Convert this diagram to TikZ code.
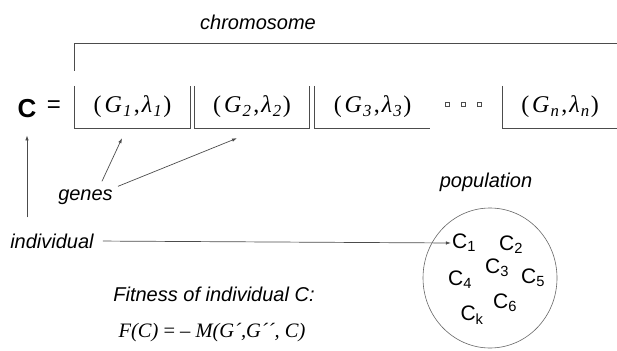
\documentclass[tikz,border=0pt]{standalone}
\usepackage{fontspec}
\setmainfont{Liberation Serif}
\setsansfont{Liberation Sans}
\usetikzlibrary{arrows.meta}

\newcommand{\genetext}[1]{(\kern3pt\textit{G}\kern1pt\textsubscript{\itshape #1}\kern2pt,\kern2pt\textit{λ}\kern1pt\textsubscript{\itshape #1}\kern1pt)}

\tikzset{
  lbl/.style={font=\fontsize{20}{24}\selectfont\sffamily\itshape, inner sep=0pt},
  genebox/.style={minimum width=115pt, minimum height=42pt, inner sep=0pt,
    font=\fontsize{24}{28}\selectfont},
  indiv/.style={font=\fontsize{21}{25}\selectfont\sffamily, inner sep=0pt},
  wire/.style={draw=black!70, line width=0.7pt},
}

\begin{document}
\begin{tikzpicture}[x=1pt,y=-1pt,>={Latex[length=5pt,width=3.5pt]}]
\useasboundingbox (0,0) rectangle (617,350);

\node[lbl] (chrom) at (258,22) {chromosome};

\node[font=\fontsize{26}{30}\selectfont\sffamily\bfseries, inner sep=0pt] (C) at (27,109) {C};
\node[font=\fontsize{24}{28}\selectfont\sffamily] (eq) at (54,107) {=};

\node[genebox] (g1) at (132.5,107) {\genetext{1}};
\node[genebox] (g2) at (252,107) {\genetext{2}};
\node[genebox] (g3) at (372.5,107) {\genetext{3}};
\node[genebox, minimum width=114pt] (gn) at (560,107) {\genetext{n}};

\draw[wire] (g1.north west) |- (g1.south east) -- (g1.north east);
\draw[wire] (g2.north west) |- (g2.south east) -- (g2.north east);
\draw[wire] (g3.north west) |- (g3.south east);
\draw[wire] (gn.north west) |- (gn.south east);
\draw[wire] ([yshift=15pt]g1.north west) |- (617,43);

\foreach \x in {447,463,479}
  \draw[wire, line width=0.5pt] (\x-2,102) rectangle (\x+2,106);

\node[lbl] (genes) at (85.5,197) {genes};
\node[lbl] (ind) at (52,241) {individual};

\draw[wire,->] ([shift={(-11,-8)}]genes.north east) -- ([shift={(-10.5,10)}]g1.south);
\draw[wire,->] ([shift={(5,-3)}]genes.north east) -- ([shift={(-15,10)}]g2.south);
\draw[wire,->] ([yshift=16pt]ind.north -| C.south) -- ([yshift=-17pt]C.south);

\node[lbl] (pop) at (486,182) {population};
\draw[draw=black!60, line width=0.6pt] (490,278) ellipse [x radius=67, y radius=70];

\node[indiv] (c1) at (464,243) {C\textsubscript{1}};
\node[indiv] (c2) at (511,245) {C\textsubscript{2}};
\node[indiv] (c3) at (497,268) {C\textsubscript{3}};
\node[indiv] (c4) at (460,280) {C\textsubscript{4}};
\node[indiv] (c5) at (533,278) {C\textsubscript{5}};
\node[indiv] (c6) at (505,303) {C\textsubscript{6}};
\node[indiv] (ck) at (472,315) {C\textsubscript{k}};

\draw[wire,->,shorten <=9pt,shorten >=1pt] (ind.east) -- (c1.west);

\node[lbl] (fit) at (214,294) {Fitness of individual C:};
\node[font=\fontsize{20.5}{24}\selectfont, inner sep=0pt] (fc) at (212,333)
  {\itshape F(C) \upshape= – \itshape M(G´,G´´, C)};
\end{tikzpicture}
\end{document}
